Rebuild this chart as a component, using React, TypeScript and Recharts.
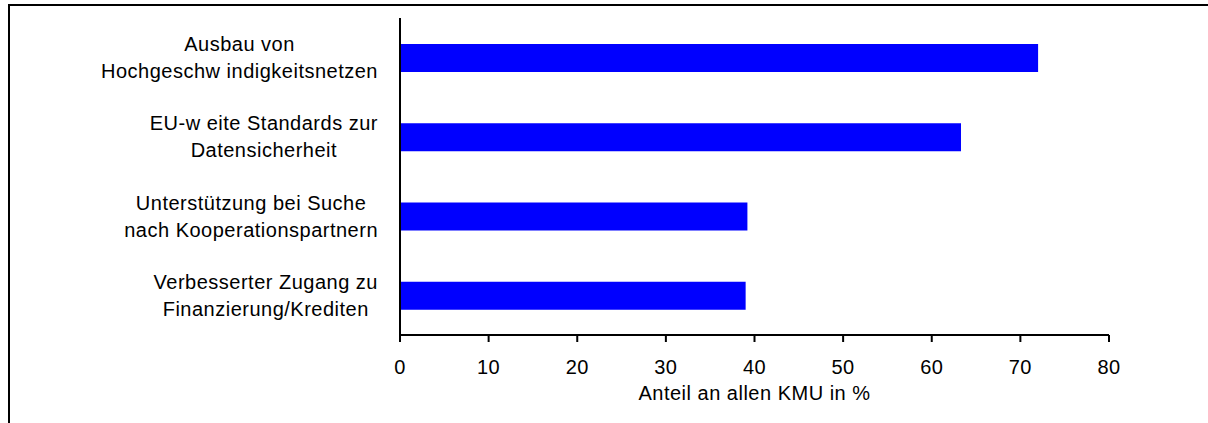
import { BarChart, Bar, XAxis, YAxis } from "recharts";

const categories = [
  "Ausbau von\nHochgeschw indigkeitsnetzen",
  "EU-w eite Standards zur\nDatensicherheit",
  "Unterstützung bei Suche\nnach Kooperationspartnern",
  "Verbesserter Zugang zu\nFinanzierung/Krediten",
];
const shares = [72, 63.3, 39.2, 39.0];
const xTicks = [0, 10, 20, 30, 40, 50, 60, 70, 80];
const xTitle = "Anteil an allen KMU in %";

const data = categories.map((name, i) => ({ name, value: shares[i] }));

const FONT = "'Liberation Sans', Arial, sans-serif";
const FONT_SIZE = 20;
const SPACING = 0.5;

let ctx: CanvasRenderingContext2D | null = null;
const measure = (s: string) => {
  if (!ctx) {
    ctx = document.createElement("canvas").getContext("2d");
    if (ctx) {
      ctx.font = `${FONT_SIZE}px 'Liberation Sans'`;
      (ctx as any).letterSpacing = `${SPACING}px`;
    }
  }
  return ctx ? ctx.measureText(s).width : s.length * 10;
};

// Excel-style label: block right-aligned next to the axis, lines centred inside it
const CategoryTick = (props: any) => {
  const { x, y, payload } = props;
  const lines = String(payload.value).split("\n");
  const blockW = Math.max(...lines.map(measure));
  const cx = x - 22 - blockW / 2;
  const lh = 27;
  const top = y - ((lines.length - 1) * lh) / 2;
  return (
    <text
      textAnchor="middle"
      fontSize={FONT_SIZE}
      fontFamily={FONT}
      letterSpacing={SPACING}
      fill="#000"
    >
      {lines.map((l, i) => (
        <tspan key={i} x={cx} y={top + i * lh + 7}>
          {l}
        </tspan>
      ))}
    </text>
  );
};

export default function App() {
  return (
    <>
      <div
        style={{
          position: "absolute",
          left: 8,
          top: 4,
          width: 1200,
          height: 419,
          borderTop: "2px solid #000",
          borderLeft: "2px solid #000",
          boxSizing: "border-box",
        }}
      />
      <div style={{ position: "absolute", left: 0, top: 0 }}>
        <BarChart
          width={1208}
          height={423}
          data={data}
          layout="vertical"
          margin={{ top: 18, right: 99, left: 0, bottom: 0 }}
        >
          <XAxis
            type="number"
            domain={[0, 80]}
            ticks={xTicks}
            interval={0}
            height={88}
            stroke="#000"
            strokeWidth={2}
            tickSize={7}
            tickMargin={18}
            tick={{
              fill: "#000",
              fontSize: FONT_SIZE,
              fontFamily: FONT,
              letterSpacing: SPACING,
            }}
            label={{
              value: xTitle,
              position: "insideBottom",
              offset: 23,
              fill: "#000",
              fontSize: FONT_SIZE,
              fontFamily: FONT,
              letterSpacing: SPACING,
            }}
          />
          <YAxis
            type="category"
            dataKey="name"
            width={400}
            stroke="#000"
            strokeWidth={2}
            tickLine={false}
            tickSize={0}
            tickMargin={0}
            interval={0}
            tick={<CategoryTick />}
          />
          <Bar
            dataKey="value"
            fill="#0000ff"
            barSize={28}
            isAnimationActive={false}
          />
        </BarChart>
      </div>
    </>
  );
}
